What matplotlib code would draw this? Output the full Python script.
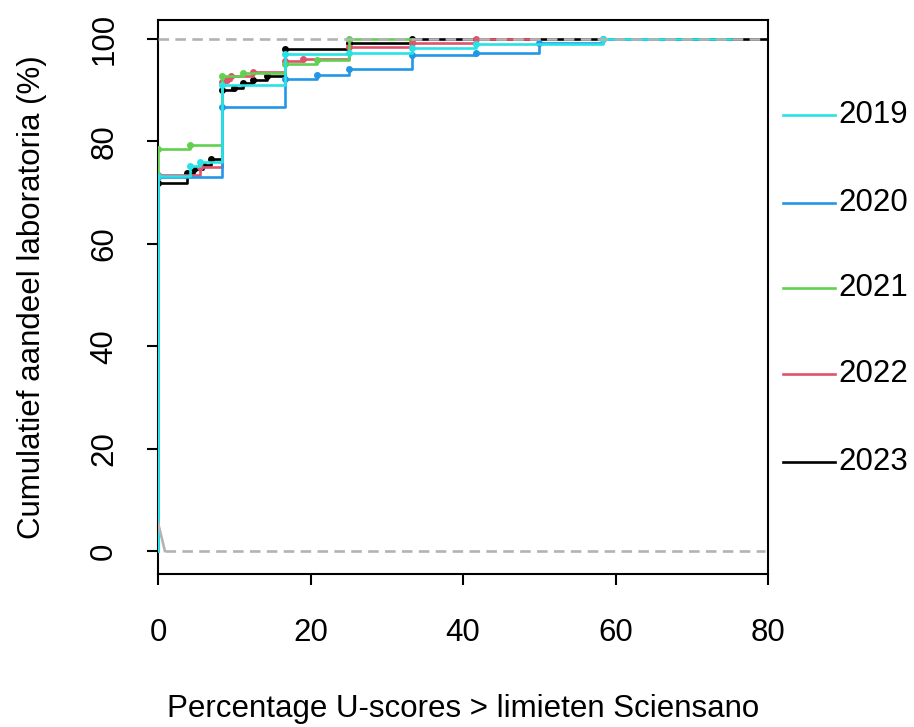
import matplotlib
matplotlib.use('Agg')
import matplotlib.pyplot as plt

# cumulative share of labs (%) per year, jump positions on the x axis
years = ['2019', '2020', '2021', '2022', '2023']
colors = ['#28E2E5', '#2297E6', '#61D04F', '#DF536B', 'black']

x_2019 = [0, 4.17, 5.56, 8.33, 16.67, 25, 33.33, 41.67, 58.33]
y_2019 = [73.3, 75.2, 76.0, 91.0, 97.0, 97.3, 98.3, 99.1, 100]

x_2020 = [0, 8.33, 16.67, 20.83, 25, 33.33, 41.67, 50, 58.33]
y_2020 = [73.1, 86.7, 92.1, 93.0, 94.1, 96.9, 97.3, 99.2, 100]

x_2021 = [0, 4.17, 8.33, 11.11, 16.67, 20.83, 25]
y_2021 = [78.6, 79.3, 92.7, 93.4, 95.2, 95.8, 100]

x_2022 = [0, 5.56, 8.33, 9.09, 9.52, 12.5, 16.67, 19.05, 25, 33.33, 41.67]
y_2022 = [73.5, 75.0, 91.5, 92.0, 92.8, 93.6, 95.7, 96.1, 98.5, 99.3, 100]

x_2023 = [0, 3.85, 4.76, 5.88, 6.9, 8.33, 9.9, 11.1, 12.5, 14.3, 16.67, 25, 33.33]
y_2023 = [71.9, 73.8, 74.5, 75.3, 76.6, 90.0, 90.4, 91.4, 92.0, 92.7, 98.0, 99.2, 100]

# where the last horizontal of each step function stops
tail_end = [75.2, 66.0, 33.33, 50.0, 80.0]

xs_all = [x_2019, x_2020, x_2021, x_2022, x_2023]
ys_all = [y_2019, y_2020, y_2021, y_2022, y_2023]


def step_path(kx, ky, xend):
    px, py = [kx[0]], [0]
    for i in range(len(kx)):
        px += [kx[i]]
        py += [ky[i]]
        nxt = kx[i+1] if i+1 < len(kx) else xend
        px += [nxt]
        py += [ky[i]]
    return px, py


FS = 22.5
plt.rcParams['font.family'] = ['Liberation Sans', 'DejaVu Sans']
fig = plt.figure(figsize=(9.14, 7.27), dpi=100)
ax = fig.add_axes([0.1729, 0.2105, 0.8403 - 0.1729, 0.9725 - 0.2105])

# newest year first, older years drawn over it
order = [4, 3, 2, 1, 0]
for z, k in enumerate(order):
    px, py = step_path(xs_all[k], ys_all[k], tail_end[k])
    ax.plot(px, py, color=colors[k], lw=1.9, zorder=2 + z)
    ax.plot(xs_all[k], ys_all[k], 'o', color=colors[k], ms=5, mew=0, zorder=2 + z)

gray = '#B3B3B3'
ax.plot([0, 0.9], [5.5, 0], color=gray, lw=1.9, zorder=10)
ax.plot([0.9, 79.6], [0, 0], color=gray, lw=1.9, ls=(0, (4, 2.4)), zorder=10)
ax.plot([0, 79.6], [100, 100], color=gray, lw=1.9, ls=(0, (4, 2.4)), zorder=10)

ax.set_xlim(0, 80)
ax.set_ylim(-4.5, 103.7)
ax.set_xticks([0, 20, 40, 60, 80])
ax.set_yticks([0, 20, 40, 60, 80, 100])
for lbl in ax.get_yticklabels():
    lbl.set_rotation(90)
    lbl.set_va('center')
ax.tick_params(axis='both', labelsize=FS, length=8, width=1.5, direction='out')
ax.tick_params(axis='x', pad=24)
ax.tick_params(axis='y', pad=20)
for s in ax.spines.values():
    s.set_linewidth(1.5)

ax.set_xlabel('Percentage U-scores > limieten Sciensano', fontsize=FS, labelpad=33)
ax.set_ylabel('Cumulatief aandeel laboratoria (%)', fontsize=FS, labelpad=30)

# legend drawn by hand to the right of the box
leg_y = [115, 203, 288, 374, 462]
for k in range(5):
    yf = 1 - leg_y[k] / 727
    fig.add_artist(plt.Line2D([783 / 914, 835 / 914], [yf, yf], color=colors[k], lw=1.9))
    fig.text(838 / 914, yf, years[k], fontsize=FS, va='center', ha='left')

fig.savefig('out.png', dpi=100)
